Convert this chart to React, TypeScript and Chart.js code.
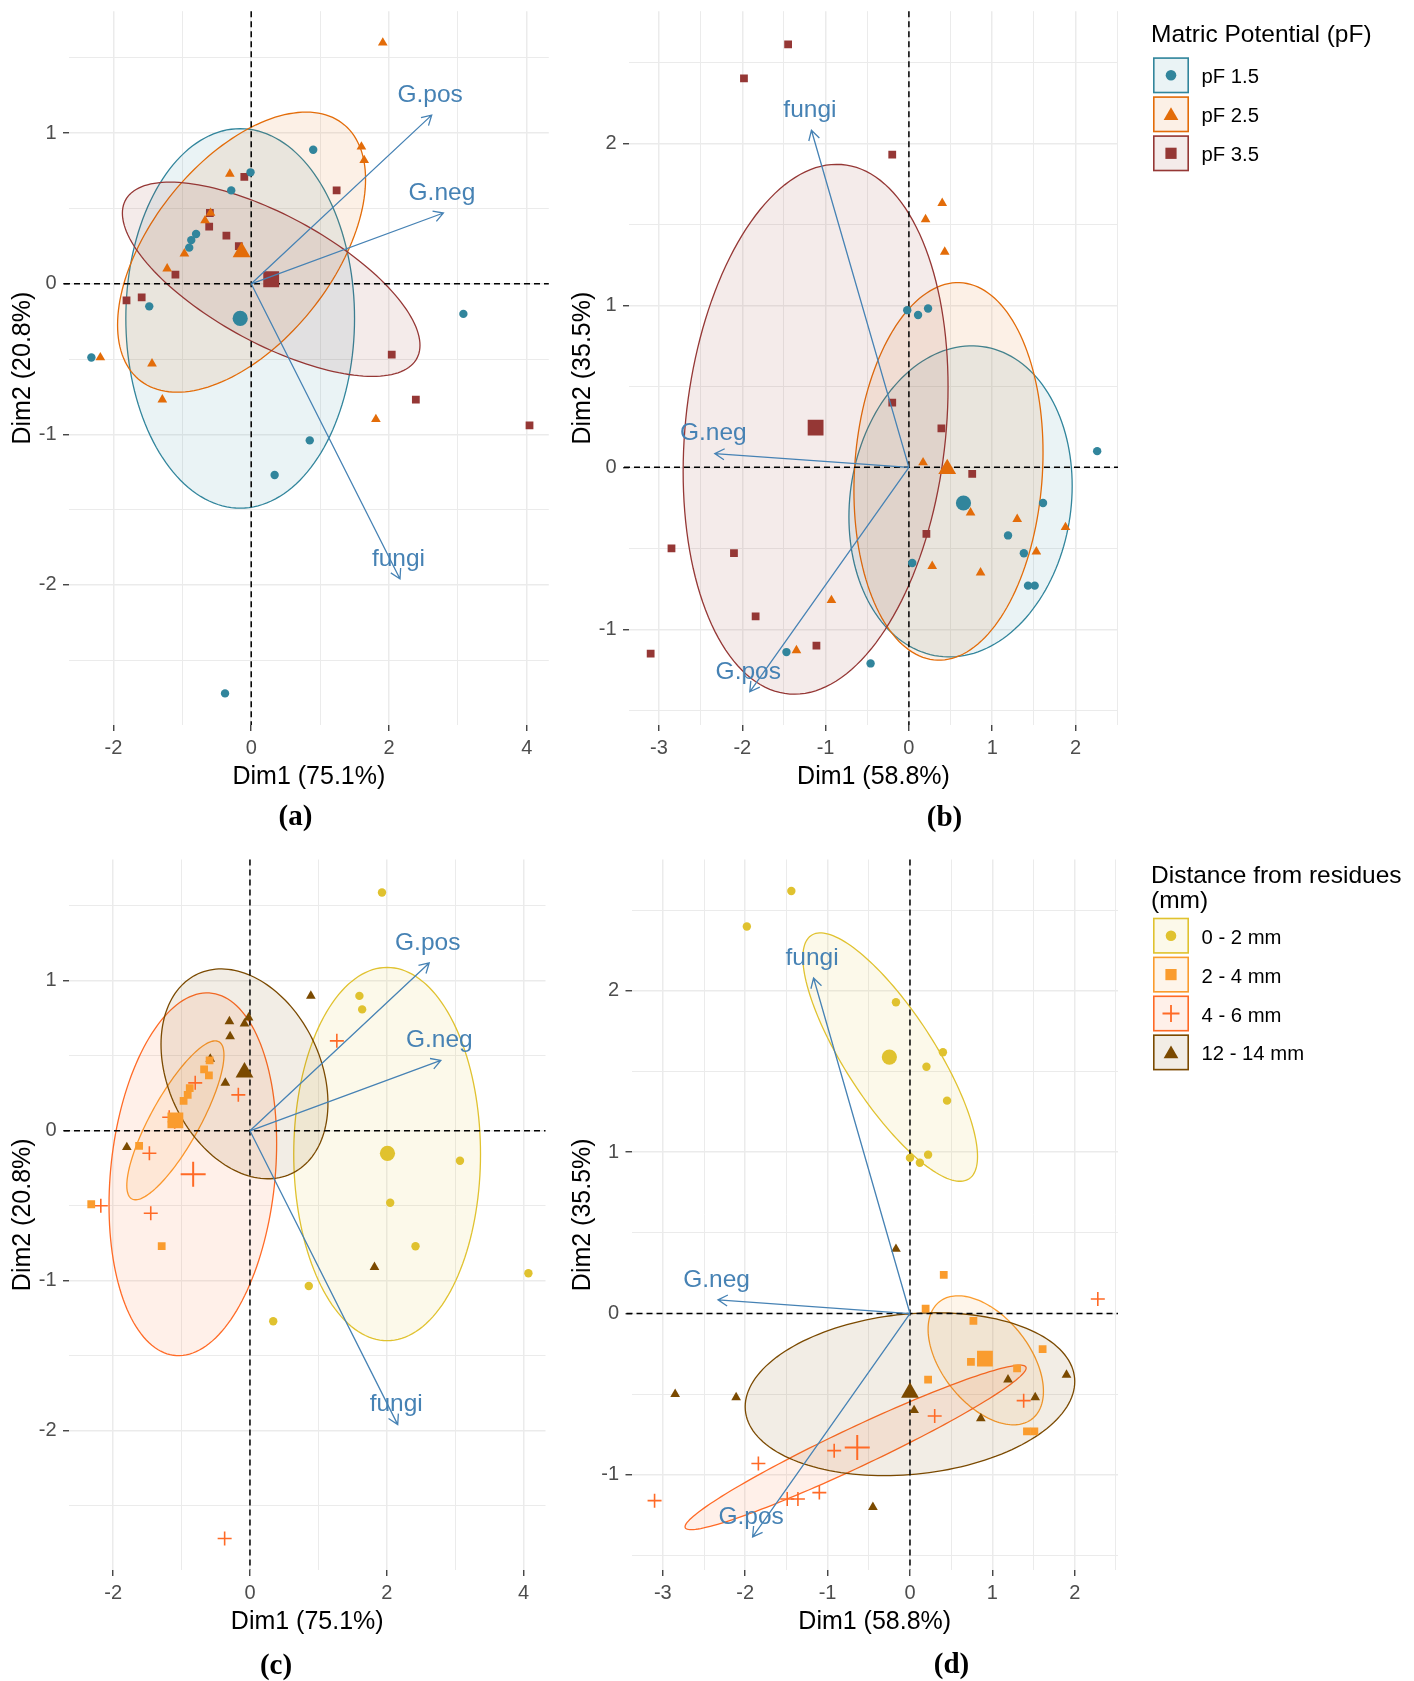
import React, { useEffect, useRef } from 'react';
import { Chart, registerables } from 'chart.js';

Chart.register(...registerables);

type Pt = [number, number];
type Ell = [number, number, number, number, number]; // centre x, centre y, half-width, half-height, correlation

// ---------------- Panel (a): PCA 1, grouped by matric potential ----------------
const aPf15: Pt[] = [[0.90, 0.89], [-0.01, 0.74], [-0.29, 0.62], [-0.80, 0.33], [-0.87, 0.29], [-0.90, 0.24], [-1.48, -0.15], [-2.32, -0.49], [3.08, -0.20], [0.85, -1.04], [0.34, -1.27], [-0.38, -2.72]];
const aPf25: Pt[] = [[1.91, 1.60], [1.60, 0.91], [1.64, 0.82], [-0.31, 0.73], [-0.59, 0.47], [-0.67, 0.42], [-0.97, 0.20], [-1.22, 0.10], [-2.19, -0.49], [-1.44, -0.53], [-1.29, -0.77], [1.81, -0.90]];
const aPf35: Pt[] = [[-0.10, 0.71], [1.24, 0.62], [-0.61, 0.38], [-0.36, 0.32], [-0.60, 0.47], [-0.18, 0.25], [-1.10, 0.06], [-1.81, -0.11], [-1.59, -0.09], [2.04, -0.47], [2.39, -0.77], [4.04, -0.94]];
const aCentroids: Pt[] = [[-0.16, -0.23], [-0.14, 0.21], [0.29, 0.03]];
const aEllipses: Ell[] = [[-0.16, -0.23, 1.66, 1.26, 0.0], [-0.14, 0.21, 1.80, 0.93, 0.52], [0.29, 0.03, 2.16, 0.645, -0.68]];

// ---------------- Panel (b): PCA 2, grouped by matric potential ----------------
const bPf15: Pt[] = [[-0.02, 0.97], [0.11, 0.94], [0.23, 0.98], [2.26, 0.10], [1.61, -0.22], [1.19, -0.42], [1.38, -0.53], [0.04, -0.59], [1.43, -0.73], [1.51, -0.73], [-1.47, -1.14], [-0.46, -1.21]];
const bPf25: Pt[] = [[0.40, 1.63], [0.20, 1.53], [0.43, 1.33], [0.17, 0.03], [0.74, -0.28], [1.30, -0.32], [1.88, -0.37], [1.53, -0.52], [0.28, -0.61], [0.86, -0.65], [-0.93, -0.82], [-1.35, -1.13]];
const bPf35: Pt[] = [[-1.45, 2.61], [-1.98, 2.40], [-0.20, 1.93], [-0.20, 0.40], [0.39, 0.24], [0.76, -0.04], [0.21, -0.41], [-2.85, -0.50], [-2.10, -0.53], [-1.84, -0.92], [-1.11, -1.10], [-3.10, -1.15]];
const bCentroids: Pt[] = [[0.655, -0.22], [0.46, -0.01], [-1.12, 0.245]];
const bEllipses: Ell[] = [[0.62, -0.21, 1.34, 0.96, 0.10], [0.475, -0.025, 1.135, 1.165, 0.10], [-1.12, 0.235, 1.59, 1.635, 0.16]];

// ---------------- Panel (c): PCA 1, grouped by distance from residues ----------------
const cD02: Pt[] = [[1.93, 1.59], [1.60, 0.90], [1.64, 0.81], [3.07, -0.20], [2.05, -0.48], [2.42, -0.77], [4.07, -0.95], [0.86, -1.035], [0.34, -1.27]];
const cD24: Pt[] = [[-0.59, 0.47], [-0.67, 0.41], [-0.60, 0.37], [-0.88, 0.285], [-0.91, 0.24], [-0.97, 0.20], [-1.62, -0.10], [-2.32, -0.49], [-1.29, -0.77]];
const cD46: Pt[] = [[1.27, 0.60], [-0.80, 0.32], [-0.17, 0.24], [-1.18, 0.09], [-1.10, 0.06], [-1.47, -0.15], [-2.18, -0.50], [-1.45, -0.55], [-0.37, -2.72]];
const cD1214: Pt[] = [[0.89, 0.90], [-0.02, 0.755], [-0.08, 0.715], [-0.30, 0.73], [-0.29, 0.63], [-0.58, 0.48], [-0.36, 0.32], [-1.80, -0.11], [1.82, -0.91]];
const cCentroids: Pt[] = [[2.01, -0.15], [-1.09, 0.07], [-0.83, -0.29], [-0.08, 0.39]];
const cEllipses: Ell[] = [[2.005, -0.155, 1.365, 1.245, 0.0], [-1.09, 0.07, 0.71, 0.53, 0.82], [-0.835, -0.29, 1.225, 1.21, 0.17], [-0.08, 0.38, 1.22, 0.70, -0.28]];

// ---------------- Panel (d): PCA 2, grouped by distance from residues ----------------
const dD02: Pt[] = [[-1.44, 2.62], [-1.98, 2.40], [-0.17, 1.93], [0.40, 1.62], [0.20, 1.53], [0.45, 1.32], [0.00, 0.965], [0.12, 0.935], [0.22, 0.985]];
const dD24: Pt[] = [[0.41, 0.24], [0.19, 0.03], [0.77, -0.045], [1.61, -0.22], [0.74, -0.30], [1.30, -0.34], [0.22, -0.41], [1.42, -0.73], [1.51, -0.73]];
const dD46: Pt[] = [[2.28, 0.09], [1.38, -0.54], [0.30, -0.635], [-0.92, -0.85], [-1.84, -0.93], [-1.10, -1.11], [-1.49, -1.15], [-1.36, -1.15], [-3.10, -1.16]];
const dD1214: Pt[] = [[-0.17, 0.40], [1.90, -0.38], [1.19, -0.41], [-2.85, -0.50], [-2.11, -0.52], [1.52, -0.52], [0.05, -0.60], [0.86, -0.65], [-0.45, -1.20]];
const dCentroids: Pt[] = [[-0.25, 1.59], [0.91, -0.28], [-0.64, -0.83], [0.00, -0.49]];
const dEllipses: Ell[] = [[-0.24, 1.59, 1.06, 0.77, -0.80], [0.92, -0.29, 0.70, 0.40, -0.48], [-0.66, -0.83, 2.07, 0.51, 0.965], [0.0, -0.50, 2.0, 0.505, 0.155]];

// ---------------- Variable loadings (arrows) ----------------
const arrowNames = ['G.pos', 'G.neg', 'fungi'];
const arrowsPca1: Pt[] = [[2.62, 1.12], [2.79, 0.47], [2.16, -1.96]];
const arrowsPca2: Pt[] = [[-1.91, -1.385], [-2.33, 0.085], [-1.17, 2.08]];

// ---------------- Labels, categories ----------------
const pfLabels = ['pF 1.5', 'pF 2.5', 'pF 3.5'];
const distLabels = ['0 - 2 mm', '2 - 4 mm', '4 - 6 mm', '12 - 14 mm'];
const pfTitle = ['Matric Potential (pF)'];
const distTitle = ['Distance from residues', '(mm)'];
const xTitlePca1 = 'Dim1 (75.1%)';
const yTitlePca1 = 'Dim2 (20.8%)';
const xTitlePca2 = 'Dim1 (58.8%)';
const yTitlePca2 = 'Dim2 (35.5%)';

// ---------------- Styles ----------------
const pfColors = ['#31859C', '#E36C09', '#953735'];
const pfShapes = ['circle', 'triangle', 'rect'];
const distColors = ['#E0C22F', '#FA9C2E', '#FF6A26', '#7B4A00'];
const distShapes = ['circle', 'rect', 'cross', 'triangle'];
const ARROW = '#4682B4';
const SANS = '"Liberation Sans", Arial, Helvetica, sans-serif';
const SERIF = '"Liberation Serif", "Times New Roman", serif';

Chart.defaults.font.family = SANS;

interface Group { label: string; color: string; shape: string; pts: Pt[]; centroid: Pt; ellipse: Ell; }
interface Legend { x: number; titleLines: string[]; titleY: number; titleGap: number; keyTop: number; pitch: number; }
interface PanelSpec {
  left: number; top: number; w: number; h: number;
  pad: { left: number; top: number; right: number; bottom: number };
  yAxisW: number;
  xMin: number; xMax: number; yMin: number; yMax: number;
  xStep: number; xMajor: number; yStep: number; yMajor: number;
  xTitle: string; yTitle: string;
  groups: Group[];
  arrows: Pt[];
  caption: string; capX: number; capY: number;
  legend?: Legend;
}

const mkGroups = (labels: string[], colors: string[], shapes: string[], pts: Pt[][], cents: Pt[], ells: Ell[]): Group[] =>
  labels.map((label, i) => ({ label, color: colors[i], shape: shapes[i], pts: pts[i], centroid: cents[i], ellipse: ells[i] }));

const panels: PanelSpec[] = [
  {
    left: 0, top: 0, w: 560, h: 845, pad: { left: 0, top: 10, right: 4.5, bottom: 45 }, yAxisW: 69,
    xMin: -2.645, xMax: 4.32, yMin: -2.93, yMax: 1.81, xStep: 1, xMajor: 2, yStep: 0.5, yMajor: 1,
    xTitle: xTitlePca1, yTitle: yTitlePca1,
    groups: mkGroups(pfLabels, pfColors, pfShapes, [aPf15, aPf25, aPf35], aCentroids, aEllipses),
    arrows: arrowsPca1, caption: '(a)', capX: 295.5, capY: 817.5,
  },
  {
    left: 560, top: 0, w: 854, h: 845, pad: { left: 0, top: 10, right: 296, bottom: 45 }, yAxisW: 69,
    xMin: -3.36, xMax: 2.51, yMin: -1.59, yMax: 2.815, xStep: 0.5, xMajor: 1, yStep: 0.5, yMajor: 1,
    xTitle: xTitlePca2, yTitle: yTitlePca2,
    groups: mkGroups(pfLabels, pfColors, pfShapes, [bPf15, bPf25, bPf35], bCentroids, bEllipses),
    arrows: arrowsPca2, caption: '(b)', capX: 384.5, capY: 818.5,
    legend: { x: 591, titleLines: pfTitle, titleY: 35, titleGap: 25, keyTop: 57.3, pitch: 39 },
  },
  {
    left: 0, top: 845, w: 560, h: 836, pad: { left: 0, top: 10, right: 4.5, bottom: 36 }, yAxisW: 69,
    xMin: -2.645, xMax: 4.32, yMin: -2.93, yMax: 1.81, xStep: 1, xMajor: 2, yStep: 0.5, yMajor: 1,
    xTitle: xTitlePca1, yTitle: yTitlePca1,
    groups: mkGroups(distLabels, distColors, distShapes, [cD02, cD24, cD46, cD1214], cCentroids, cEllipses),
    arrows: arrowsPca1, caption: '(c)', capX: 276, capY: 821.5,
  },
  {
    left: 560, top: 845, w: 854, h: 836, pad: { left: 0, top: 10, right: 296, bottom: 36 }, yAxisW: 71.5,
    xMin: -3.38, xMax: 2.525, yMin: -1.59, yMax: 2.815, xStep: 0.5, xMajor: 1, yStep: 0.5, yMajor: 1,
    xTitle: xTitlePca2, yTitle: yTitlePca2,
    groups: mkGroups(distLabels, distColors, distShapes, [dD02, dD24, dD46, dD1214], dCentroids, dEllipses),
    arrows: arrowsPca2, caption: '(d)', capX: 391.5, capY: 820.5,
    legend: { x: 591, titleLines: distTitle, titleY: 31.5, titleGap: 25, keyTop: 72.7, pitch: 38.9 },
  },
];

function rgba(hex: string, a: number) {
  const n = parseInt(hex.slice(1), 16);
  return `rgba(${(n >> 16) & 255},${(n >> 8) & 255},${n & 255},${a})`;
}

const isMult = (v: number, m: number) => Math.abs(v / m - Math.round(v / m)) < 1e-6;

function pointSize(shape: string, big: boolean) {
  switch (shape) {
    case 'circle': return big ? 7.6 : 4.2;
    case 'triangle': return big ? 10.3 : 5.6;
    case 'rect': return big ? 11.2 : 5.5;
    default: return big ? 12.5 : 7;
  }
}

function drawSymbol(ctx: CanvasRenderingContext2D, shape: string, cx: number, cy: number, color: string) {
  ctx.save();
  ctx.fillStyle = color;
  ctx.strokeStyle = color;
  ctx.beginPath();
  if (shape === 'circle') {
    ctx.arc(cx, cy, 5.3, 0, Math.PI * 2);
    ctx.fill();
  } else if (shape === 'rect') {
    ctx.fillRect(cx - 5.6, cy - 5.6, 11.2, 11.2);
  } else if (shape === 'triangle') {
    const r = 8.5;
    for (let k = 0; k < 3; k++) {
      const ang = -Math.PI / 2 + (k * 2 * Math.PI) / 3;
      const px = cx + r * Math.cos(ang), py = cy + 1.5 + r * Math.sin(ang);
      if (k === 0) ctx.moveTo(px, py); else ctx.lineTo(px, py);
    }
    ctx.closePath();
    ctx.fill();
  } else {
    ctx.lineWidth = 1.8;
    ctx.moveTo(cx - 8.5, cy); ctx.lineTo(cx + 8.5, cy);
    ctx.moveTo(cx, cy - 8.5); ctx.lineTo(cx, cy + 8.5);
    ctx.stroke();
  }
  ctx.restore();
}

function makePlugin(spec: PanelSpec) {
  return {
    id: 'biplotExtras',
    beforeDatasetsDraw(chart: any) {
      const { ctx, chartArea: a, scales } = chart;
      const sx = scales.x, sy = scales.y;
      ctx.save();
      // confidence ellipses
      spec.groups.forEach((g) => {
        const [cx, cy, hx, hy, rho] = g.ellipse;
        const k = Math.sqrt(1 - rho * rho);
        ctx.beginPath();
        const N = 160;
        for (let i = 0; i <= N; i++) {
          const t = (i / N) * Math.PI * 2;
          const vx = cx + hx * Math.cos(t);
          const vy = cy + hy * (rho * Math.cos(t) + k * Math.sin(t));
          const px = sx.getPixelForValue(vx), py = sy.getPixelForValue(vy);
          if (i === 0) ctx.moveTo(px, py); else ctx.lineTo(px, py);
        }
        ctx.closePath();
        ctx.fillStyle = rgba(g.color, 0.1);
        ctx.fill();
        ctx.strokeStyle = g.color;
        ctx.lineWidth = 1.3;
        ctx.stroke();
      });
      // dashed zero lines
      const x0 = sx.getPixelForValue(0), y0 = sy.getPixelForValue(0);
      ctx.setLineDash([6, 4]);
      ctx.strokeStyle = '#000';
      ctx.lineWidth = 1.5;
      ctx.beginPath();
      ctx.moveTo(a.left - 5, y0); ctx.lineTo(a.right, y0);
      ctx.moveTo(x0, a.top); ctx.lineTo(x0, a.bottom);
      ctx.stroke();
      ctx.restore();
    },
    afterDatasetsDraw(chart: any) {
      const { ctx, scales } = chart;
      const sx = scales.x, sy = scales.y;
      const ox = sx.getPixelForValue(0), oy = sy.getPixelForValue(0);
      ctx.save();
      spec.arrows.forEach(([vx, vy], i) => {
        const ex = sx.getPixelForValue(vx), ey = sy.getPixelForValue(vy);
        ctx.strokeStyle = ARROW;
        ctx.lineWidth = 1.3;
        ctx.beginPath();
        ctx.moveTo(ox, oy); ctx.lineTo(ex, ey);
        const ang = Math.atan2(ey - oy, ex - ox);
        const L = 11;
        ctx.moveTo(ex - L * Math.cos(ang - Math.PI / 6), ey - L * Math.sin(ang - Math.PI / 6));
        ctx.lineTo(ex, ey);
        ctx.lineTo(ex - L * Math.cos(ang + Math.PI / 6), ey - L * Math.sin(ang + Math.PI / 6));
        ctx.stroke();
        ctx.fillStyle = ARROW;
        ctx.font = `24.5px ${SANS}`;
        ctx.textAlign = 'center';
        ctx.textBaseline = 'middle';
        ctx.fillText(arrowNames[i], ex - 1.5, ey - 20);
      });
      ctx.restore();
    },
    afterDraw(chart: any) {
      const { ctx } = chart;
      ctx.save();
      ctx.fillStyle = '#000';
      ctx.font = `bold 29px ${SERIF}`;
      ctx.textAlign = 'center';
      ctx.textBaseline = 'middle';
      ctx.fillText(spec.caption, spec.capX, spec.capY);
      const L = spec.legend;
      if (L) {
        ctx.textAlign = 'left';
        ctx.font = `24.5px ${SANS}`;
        ctx.fillStyle = '#000';
        L.titleLines.forEach((t, i) => ctx.fillText(t, L.x, L.titleY + i * L.titleGap));
        spec.groups.forEach((g, i) => {
          const top = L.keyTop + i * L.pitch;
          const kx = L.x + 2, size = 36;
          ctx.fillStyle = rgba(g.color, 0.1);
          ctx.fillRect(kx, top, size, size);
          ctx.strokeStyle = g.color;
          ctx.lineWidth = 1.6;
          ctx.strokeRect(kx + 0.8, top + 0.8, size - 1.6, size - 1.6);
          drawSymbol(ctx, g.shape, kx + size / 2, top + size / 2, g.color);
          ctx.fillStyle = '#000';
          ctx.font = `20.3px ${SANS}`;
          ctx.fillText(g.label, L.x + 50.5, top + size / 2 + 2.5);
        });
      }
      ctx.restore();
    },
  };
}

function buildConfig(spec: PanelSpec): any {
  const datasets: any[] = [];
  spec.groups.forEach((g) => {
    const isCross = g.shape === 'cross';
    datasets.push({
      label: g.label + ' mean',
      data: [{ x: g.centroid[0], y: g.centroid[1] }],
      pointStyle: g.shape,
      pointRadius: pointSize(g.shape, true),
      pointHoverRadius: pointSize(g.shape, true),
      backgroundColor: g.color,
      borderColor: g.color,
      borderWidth: isCross ? 2 : 0,
      showLine: false,
    });
  });
  spec.groups.forEach((g) => {
    const isCross = g.shape === 'cross';
    datasets.push({
      label: g.label,
      data: g.pts.map(([x, y]) => ({ x, y })),
      pointStyle: g.shape,
      pointRadius: pointSize(g.shape, false),
      pointHoverRadius: pointSize(g.shape, false),
      backgroundColor: g.color,
      borderColor: g.color,
      borderWidth: isCross ? 1.6 : 0,
      showLine: false,
    });
  });

  const gridFor = (major: number) => ({
    color: '#EBEBEB',
    lineWidth: (c: any) => (c.tick && isMult(c.tick.value, major) ? 1.5 : 1.0),
    drawTicks: true,
    tickLength: 6,
    tickWidth: 1.3,
    tickColor: (c: any) => (c.tick && isMult(c.tick.value, major) ? '#333333' : 'rgba(0,0,0,0)'),
  });

  return {
    type: 'scatter',
    data: { datasets },
    options: {
      animation: false,
      responsive: false,
      maintainAspectRatio: false,
      events: [],
      layout: { padding: spec.pad },
      plugins: { legend: { display: false }, tooltip: { enabled: false }, title: { display: false } },
      scales: {
        x: {
          type: 'linear',
          min: spec.xMin,
          max: spec.xMax,
          afterFit: (s: any) => { s.height = 75; s.paddingLeft = 0; s.paddingRight = 0; },
          border: { display: false },
          grid: gridFor(spec.xMajor),
          ticks: {
            stepSize: spec.xStep,
            includeBounds: false,
            autoSkip: false,
            maxRotation: 0,
            minRotation: 0,
            padding: 5.5,
            color: '#4D4D4D',
            font: { family: SANS, size: 20 },
            callback: (v: number) => (isMult(v, spec.xMajor) ? String(Math.round(v)) : ''),
          },
          title: {
            display: true,
            text: spec.xTitle,
            color: '#000',
            font: { family: SANS, size: 25 },
            padding: { top: 0, bottom: 8 },
          },
        },
        y: {
          type: 'linear',
          min: spec.yMin,
          max: spec.yMax,
          afterFit: (s: any) => { s.width = spec.yAxisW; s.paddingTop = 0; s.paddingBottom = 0; },
          border: { display: false },
          grid: gridFor(spec.yMajor),
          ticks: {
            stepSize: spec.yStep,
            includeBounds: false,
            autoSkip: false,
            padding: 6.5,
            color: '#4D4D4D',
            font: { family: SANS, size: 20 },
            callback: (v: number) => (isMult(v, spec.yMajor) ? String(Math.round(v)) : ''),
          },
          title: {
            display: true,
            text: spec.yTitle,
            color: '#000',
            font: { family: SANS, size: 25 },
            padding: { top: 8, bottom: 0 },
          },
        },
      },
    },
    plugins: [makePlugin(spec)],
  };
}

function Panel({ spec }: { spec: PanelSpec }) {
  const ref = useRef<HTMLCanvasElement>(null);
  useEffect(() => {
    if (!ref.current) return;
    const chart = new Chart(ref.current, buildConfig(spec));
    return () => chart.destroy();
  }, [spec]);
  return (
    <canvas
      ref={ref}
      width={spec.w}
      height={spec.h}
      style={{ position: 'absolute', left: spec.left, top: spec.top, width: spec.w, height: spec.h }}
    />
  );
}

export default function App() {
  return (
    <div style={{ position: 'absolute', left: 0, top: 0, width: 1414, height: 1681, background: '#ffffff', overflow: 'hidden' }}>
      {panels.map((p, i) => (
        <Panel key={i} spec={p} />
      ))}
    </div>
  );
}
